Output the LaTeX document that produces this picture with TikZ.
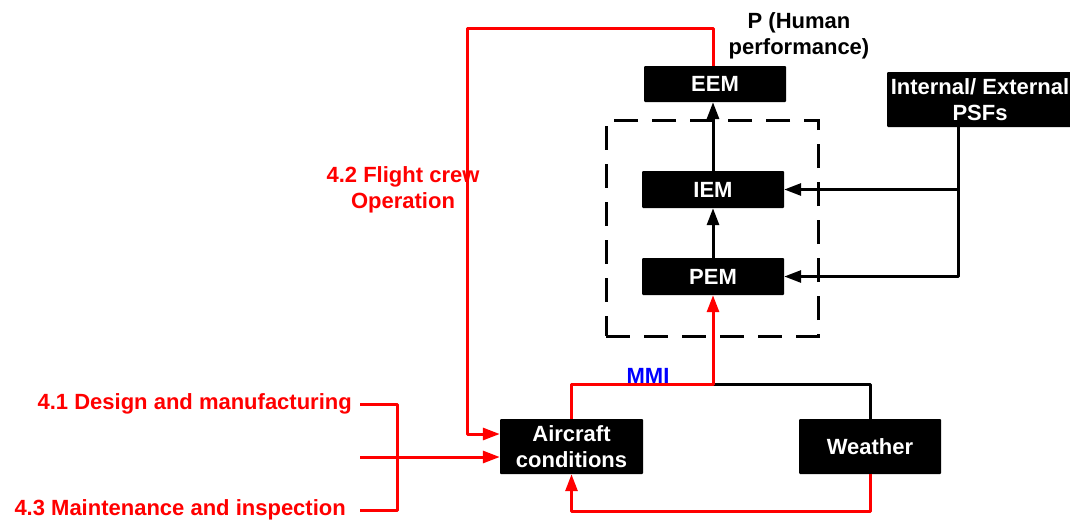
\documentclass[tikz,border=0pt]{standalone}
\usepackage{fontspec}
\setmainfont{Liberation Sans}
\usetikzlibrary{arrows.meta,calc}
\begin{document}
\begin{tikzpicture}[x=1pt,y=-1pt,
  blk/.style={fill=black,text=white,font=\bfseries\fontsize{22}{26}\selectfont,align=center,inner sep=0pt,rounded corners=1pt},
  lbl/.style={font=\bfseries\fontsize{22}{26}\selectfont,align=center,inner sep=0pt},
  ln/.style={line width=3pt,line join=round},
  arr/.style={-{Triangle[length=17pt,width=12pt]}},
  grpbox/.style={draw,line width=3pt,dash pattern=on 24pt off 14pt,inner sep=0pt}
]
\useasboundingbox (0,0) rectangle (1070,520);

% group (dashed)
\node[grpbox,minimum width=212pt,minimum height=216pt] (grp) at (712,228) {};

% blocks
\node[blk,minimum width=142pt,minimum height=36pt] (eem) at (715,84) {EEM};
\node[blk,minimum width=142pt,minimum height=37pt] (iem) at (713,189.5) {IEM};
\node[blk,minimum width=142pt,minimum height=37pt] (pem) at (713,276.5) {PEM};
\node[blk,minimum width=186pt,minimum height=55pt] (psf) at (980,99.5) {Internal/ External\\PSFs};
\node[blk,minimum width=143pt,minimum height=55pt] (ac) at (571.5,446.5) {Aircraft\\conditions};
\node[blk,minimum width=142pt,minimum height=55pt] (wx) at (870,446.5) {Weather};

% labels
\node[lbl] (perf) at (799,36) {P (Human\\performance)};
\node[lbl,text=red] (t42) at (403,190) {4.2 Flight crew\\Operation};
\node[lbl,text=red,anchor=east] (t41) at (352,404) {4.1 Design and manufacturing};
\node[lbl,text=red,anchor=east] (t43) at (346,510) {4.3 Maintenance and inspection};
\node[lbl,text=blue] (mmi) at (648,376) {MMI};

% helper coordinates
\coordinate (psx) at (958,0);
\coordinate (bus) at (0,384);
\coordinate (low) at (0,511);
\coordinate (top) at (467,28);
\coordinate (acin1) at ($(ac.west)+(0,-12.5)$);
\coordinate (acin2) at ($(ac.west)+(0,10.5)$);
\coordinate (s41) at (360,404);
\coordinate (s42) at (360,457);
\coordinate (s43) at (360,510);
\coordinate (jx) at (397,0);

% black connectors
\draw[ln,arr] (iem.north) -- (iem.north |- eem.south);
\draw[ln,arr] (pem.north) -- (iem.south);
\draw[ln,arr] (psx |- psf.south) |- (pem.east);
\draw[ln,arr] (psx |- iem.east) -- (iem.east);
\draw[ln] (pem.south |- bus) -| (wx.north);

% red connectors
\draw[ln,red,arr] (ac.north) |- (pem.south |- bus) -- (pem.south);
\draw[ln,red,arr] (wx.south) -- (wx.south |- low) -| (ac.south);
\draw[ln,red,arr] (iem.north |- eem.north) |- (top) |- (acin1);
\draw[ln,red] (s41) -| (jx |- s43) -- (s43);
\draw[ln,red,arr] (s42) -- (acin2);
\end{tikzpicture}
\end{document}
